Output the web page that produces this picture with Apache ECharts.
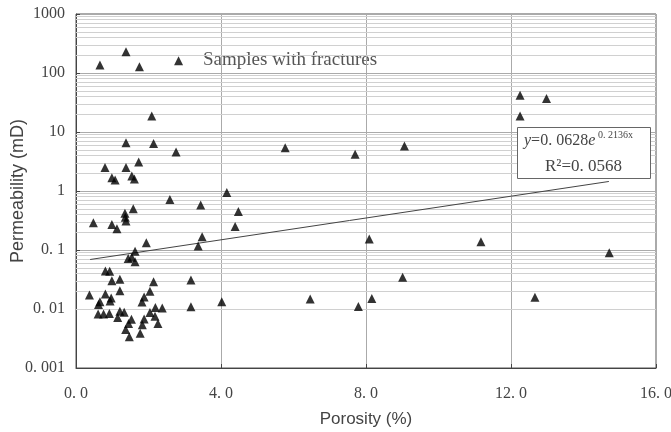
<!DOCTYPE html>
<html>
<head>
<meta charset="utf-8">
<script src="https://cdn.jsdelivr.net/npm/echarts@6.0.0/dist/echarts.min.js"></script>
<style>
  html, body { margin: 0; padding: 0; background: #fff; }
  #main { width: 671px; height: 432px; }
</style>
</head>
<body>
<div id="main"></div>
<script>
// porosity (%) of each sample
var porosity = [
  1.38, 0.66, 1.75, 2.83, 2.09,
  1.38, 2.14, 2.76, 1.73, 0.80, 1.38, 0.99, 1.08, 1.54, 1.61, 2.59,
  3.44, 4.16, 4.48, 4.39, 3.48, 3.37,
  1.58, 1.35, 1.36, 1.38, 0.48, 0.99, 1.13,
  1.94, 1.63, 1.44, 1.54, 1.63,
  0.81, 0.93, 0.99, 1.21, 2.14, 3.17,
  0.37, 0.81, 1.21, 2.04, 0.66, 0.62, 0.97, 0.94, 1.88, 1.82,
  2.19, 2.38, 3.17, 4.02,
  0.61, 0.76, 0.92, 1.21, 1.33, 1.15, 1.53, 2.04, 2.18, 1.88,
  1.45, 1.83, 2.26, 1.37, 1.77, 1.47,
  5.77, 7.70, 9.06, 8.09, 9.01, 6.46, 7.79, 8.16,
  12.25, 12.98, 12.25, 11.17, 14.71, 12.66
];
// permeability (mD), same order
var permeability = [
  230, 137, 128, 162, 18.7,
  6.6, 6.4, 4.6, 3.1, 2.5, 2.5, 1.68, 1.53, 1.79, 1.6, 0.72,
  0.58, 0.94, 0.45, 0.25, 0.168, 0.117,
  0.50, 0.42, 0.36, 0.31, 0.29, 0.27, 0.23,
  0.133, 0.095, 0.072, 0.075, 0.063,
  0.044, 0.0435, 0.030, 0.032, 0.029, 0.031,
  0.0173, 0.018, 0.0204, 0.020, 0.0133, 0.0119, 0.0153, 0.0137, 0.016, 0.0132,
  0.0106, 0.0104, 0.0109, 0.0133,
  0.0082, 0.0082, 0.0084, 0.0092, 0.0088, 0.0072, 0.0067, 0.0087, 0.0075, 0.0068,
  0.0057, 0.0054, 0.0057, 0.0045, 0.0039, 0.0034,
  5.4, 4.2, 5.8, 0.153, 0.0344, 0.0148, 0.011, 0.0151,
  42, 37, 18.7, 0.138, 0.09, 0.0158
];
// fitted trend y = 0.0628 e^(0.2136x), ends as drawn
var trendX = [0.39, 14.7];
var trendY = [0.069, 1.45];

var xTicks = [0, 4, 8, 12, 16];
var xTickLabels = ['0. 0', '4. 0', '8. 0', '12. 0', '16. 0'];
var yTicks = [0.001, 0.01, 0.1, 1, 10, 100, 1000];
var yTickLabels = ['0. 001', '0. 01', '0. 1', '1', '10', '100', '1000'];

var serif = '"Liberation Serif", "DejaVu Serif", serif';
var sans = '"Liberation Sans", Arial, sans-serif';

var points = porosity.map(function (x, i) { return [x, permeability[i]]; });
var trend = trendX.map(function (x, i) { return [x, trendY[i]]; });

// minor log gridlines 2..9 per decade
var minorLines = [];
for (var d = 0; d < yTicks.length - 1; d++) {
  for (var m = 2; m <= 9; m++) {
    minorLines.push({ yAxis: +(yTicks[d] * m).toPrecision(3) });
  }
}

function labelOf(ticks, labels) {
  return function (v) {
    for (var i = 0; i < ticks.length; i++) {
      if (Math.abs(v - ticks[i]) < ticks[i] * 1e-6 + 1e-12) return labels[i];
    }
    return '';
  };
}

var chart = echarts.init(document.getElementById('main'), null, { renderer: 'canvas' });

var option = {
  animation: false,
  backgroundColor: '#fff',
  grid: {
    left: 76, right: 15, top: 14, bottom: 64,
    outerBoundsMode: 'none',
    containLabel: false,
    show: true,
    borderColor: '#555',
    borderWidth: 1
  },
  xAxis: {
    type: 'value',
    min: 0,
    max: 16,
    interval: 4,
    name: 'Porosity (%)',
    nameLocation: 'middle',
    nameGap: 43,
    nameMoveOverlap: false,
    nameTextStyle: { fontFamily: sans, fontSize: 17, color: '#444' },
    axisLine: { lineStyle: { color: '#444' } },
    axisTick: { show: true, inside: true, length: 4, lineStyle: { color: '#444' } },
    axisLabel: {
      margin: 18,
      fontFamily: serif,
      fontSize: 16,
      color: '#444',
      formatter: labelOf(xTicks, xTickLabels)
    },
    splitLine: { show: true, lineStyle: { color: '#aaa', width: 1 } }
  },
  yAxis: {
    type: 'log',
    logBase: 10,
    min: 0.001,
    max: 1000,
    name: 'Permeability (mD)',
    nameLocation: 'middle',
    nameGap: 49,
    nameMoveOverlap: false,
    nameTextStyle: { fontFamily: sans, fontSize: 18, color: '#444' },
    axisLine: { show: true, lineStyle: { color: '#444' } },
    axisTick: { show: true, inside: true, length: 4, lineStyle: { color: '#444' } },
    axisLabel: {
      margin: 11,
      fontFamily: serif,
      fontSize: 16,
      color: '#444',
      formatter: labelOf(yTicks, yTickLabels)
    },
    splitLine: { show: true, lineStyle: { color: '#aaa', width: 1 } }
  },
  series: [
    {
      type: 'line',
      data: [],
      z: 1,
      silent: true,
      markLine: {
        z: 1,
        silent: true,
        symbol: 'none',
        label: { show: false },
        lineStyle: { color: '#d0d0d0', type: 'solid', width: 1 },
        data: minorLines
      }
    },
    {
      type: 'line',
      data: trend,
      z: 2,
      symbol: 'none',
      lineStyle: { color: '#444', width: 1 }
    },
    {
      type: 'scatter',
      data: points,
      z: 10,
      symbol: 'triangle',
      symbolSize: 9,
      itemStyle: { color: '#000' }
    }
  ],
  graphic: [
    {
      type: 'text',
      left: 203,
      top: 51,
      style: {
        text: 'Samples with fractures',
        font: '19px ' + serif,
        fill: '#555'
      }
    },
    {
      type: 'rect',
      left: 517,
      top: 127,
      shape: { width: 133, height: 51 },
      style: { fill: '#fff', stroke: '#666', lineWidth: 1 },
      z: 20
    },
    {
      type: 'text',
      left: 524,
      top: 133,
      z: 21,
      style: {
        text: '{i|y}=0. 0628{i|e}',
        rich: {
          i: { fontFamily: serif, fontStyle: 'italic', fontSize: 16, fill: '#444' }
        },
        font: '16px ' + serif,
        fill: '#444'
      }
    },
    {
      type: 'text',
      left: 598,
      top: 130,
      z: 21,
      style: { text: '0. 2136x', font: '10px ' + serif, fill: '#444' }
    },
    {
      type: 'text',
      left: 545,
      top: 158,
      z: 21,
      style: { text: 'R²=0. 0568', font: '17px ' + serif, fill: '#444' }
    }
  ]
};

chart.setOption(option);
</script>
</body>
</html>
